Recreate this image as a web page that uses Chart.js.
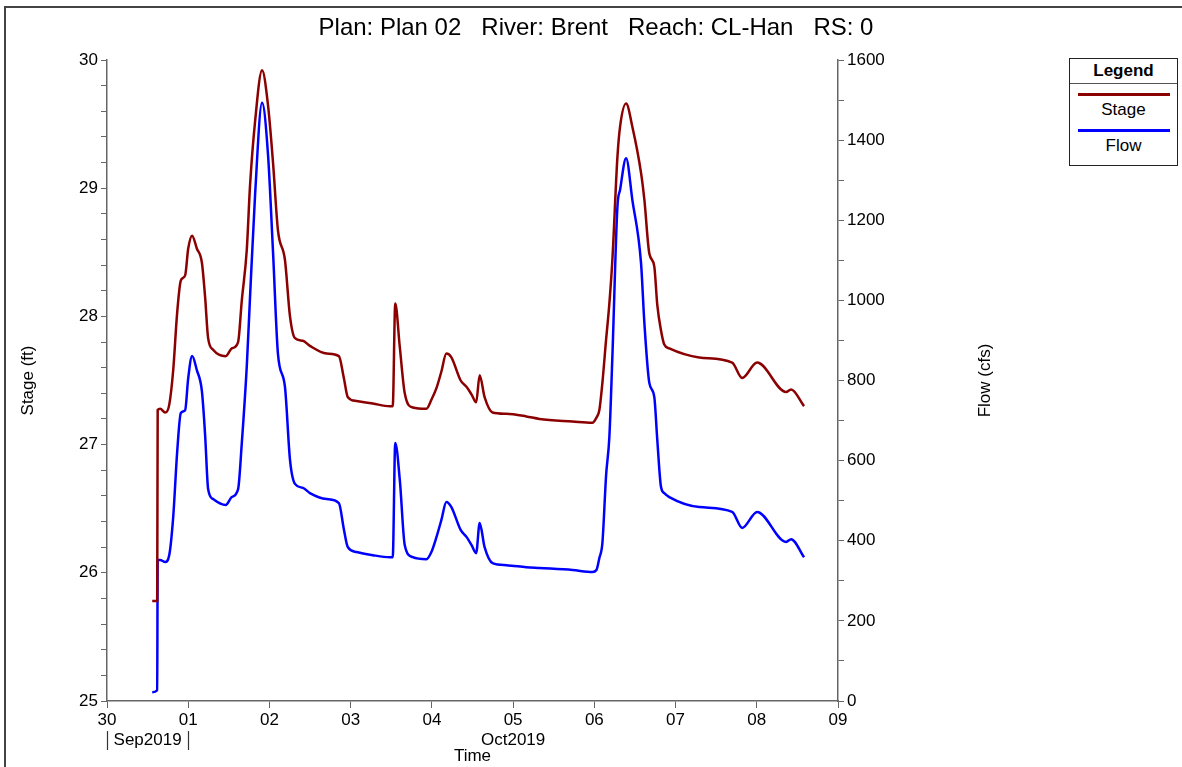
<!DOCTYPE html>
<html lang="en">
<head>
<meta charset="UTF-8">
<title>Plan 02 - Brent CL-Han</title>
<script src="https://cdn.jsdelivr.net/npm/chart.js"></script>
<style>
  body { margin: 0; background: #fff; font-family: "Liberation Sans", Arial, sans-serif; }
  #wrap { position: relative; width: 1182px; height: 767px; overflow: hidden; }
  #legend {
    position: absolute; left: 1069px; top: 58px;
    width: 107px; height: 106px;
    border: 1px solid #222; background: #fff;
    font-size: 17px; color: #000;
  }
  #legend .head {
    position: absolute; left: 0; top: 0; width: 100%; height: 24px;
    line-height: 24px; text-align: center; font-weight: bold;
    border-bottom: 1px solid #555;
  }
  #legend .swatch { position: absolute; left: 8px; width: 92px; height: 3px; }
  #legend .label { position: absolute; left: 0; width: 100%; text-align: center; line-height: 20px; }
</style>
</head>
<body>
<div id="wrap">
  <canvas id="hydro" width="1182" height="767"></canvas>
  <div id="legend">
    <div class="head">Legend</div>
    <div class="swatch" style="top:34px;background:#8b0000"></div>
    <div class="label" style="top:41px">Stage</div>
    <div class="swatch" style="top:70px;background:#0000ff"></div>
    <div class="label" style="top:77px">Flow</div>
  </div>
</div>

<script>
  // days since 30 Sep 2019 00:00
  const timeDays = [0.557, 0.618, 0.624, 0.655, 0.716, 0.766, 0.815, 0.864, 0.909, 0.962,
    1.000, 1.048, 1.106, 1.168, 1.208, 1.245, 1.306, 1.462, 1.536, 1.614,
    1.659, 1.721, 1.761, 1.823, 1.909, 1.982, 2.044, 2.105, 2.191, 2.253,
    2.314, 2.412, 2.498, 2.704, 2.855, 2.916, 2.965, 3.072, 3.273, 3.482,
    3.518, 3.549, 3.605, 3.666, 3.764, 3.933, 3.994, 4.056, 4.117, 4.178,
    4.240, 4.354, 4.428, 4.489, 4.545, 4.588, 4.649, 4.747, 4.916, 5.162,
    5.325, 5.731, 5.976, 6.026, 6.062, 6.099, 6.145, 6.185, 6.222, 6.284,
    6.317, 6.391, 6.468, 6.575, 6.616, 6.677, 6.738, 6.775, 6.821, 6.861,
    6.923, 7.291, 7.697, 7.820, 8.004, 8.361, 8.422, 8.582];

  const stage = [25.78, 25.78, 27.27, 27.28, 27.25, 27.31, 27.58, 28.03, 28.28, 28.32,
    28.53, 28.63, 28.53, 28.42, 28.15, 27.83, 27.74, 27.69, 27.75, 27.80,
    28.12, 28.52, 29.02, 29.52, 29.92, 29.65, 29.20, 28.67, 28.44, 28.00,
    27.83, 27.81, 27.77, 27.71, 27.69, 27.52, 27.37, 27.34, 27.32, 27.30,
    27.30, 28.10, 27.76, 27.40, 27.29, 27.28, 27.35, 27.44, 27.57, 27.71,
    27.68, 27.50, 27.45, 27.39, 27.33, 27.54, 27.37, 27.25, 27.24, 27.22,
    27.20, 27.18, 27.17, 27.21, 27.27, 27.48, 27.82, 28.10, 28.44, 29.24,
    29.48, 29.66, 29.48, 29.12, 28.91, 28.49, 28.39, 28.09, 27.89, 27.78,
    27.75, 27.68, 27.64, 27.52, 27.64, 27.41, 27.43, 27.30];

  const flow = [22, 27, 352, 352, 347, 364, 459, 622, 719, 726,
    806, 861, 826, 774, 664, 529, 504, 489, 509, 529,
    642, 836, 1008, 1263, 1493, 1365, 1121, 866, 784, 602,
    542, 532, 519, 504, 494, 429, 384, 372, 364, 359,
    359, 644, 552, 389, 359, 354, 372, 409, 452, 497,
    484, 427, 409, 389, 369, 444, 384, 344, 339, 334,
    332, 327, 322, 327, 357, 394, 564, 659, 859, 1233,
    1276, 1355, 1251, 1093, 944, 794, 759, 652, 534, 519,
    509, 484, 472, 432, 472, 397, 404, 359];

  const xTickLabels = ['30', '01', '02', '03', '04', '05', '06', '07', '08', '09'];
  const monthNames = ['Sep2019', 'Oct2019'];
  const monthStart = [0, 1];
  const monthEnd = [1, 9];

  const titleText = 'Plan: Plan 02   River: Brent   Reach: CL-Han   RS: 0';
  const FONT = '"Liberation Sans", Arial, sans-serif';
  const AXIS = '#666';

  Chart.defaults.font.family = FONT;
  Chart.defaults.color = '#000';

  const isWhole = v => Math.abs(v - Math.round(v)) < 1e-6;

  // frame, title, axis titles and month labels
  const decorations = {
    id: 'decorations',
    beforeDraw(chart) {
      const ctx = chart.ctx;
      ctx.save();
      ctx.fillStyle = '#fff';
      ctx.fillRect(0, 0, chart.width, chart.height);
      ctx.strokeStyle = '#444';
      ctx.lineWidth = 2;
      ctx.strokeRect(5, 7, 1400, 900);
      ctx.restore();
    },
    afterDraw(chart) {
      const { ctx, chartArea } = chart;
      const x = chart.scales.x;
      const midY = (chartArea.top + chartArea.bottom) / 2;
      ctx.save();
      ctx.fillStyle = '#000';
      ctx.textAlign = 'center';
      ctx.textBaseline = 'middle';

      ctx.font = '24px ' + FONT;
      ctx.fillText(titleText, 596, 28);

      ctx.font = '17px ' + FONT;
      ctx.save();
      ctx.translate(28, midY);
      ctx.rotate(-Math.PI / 2);
      ctx.fillText('Stage (ft)', 0, 0);
      ctx.restore();
      ctx.save();
      ctx.translate(985, midY);
      ctx.rotate(-Math.PI / 2);
      ctx.fillText('Flow (cfs)', 0, 0);
      ctx.restore();

      monthNames.forEach((name, i) => {
        const a = x.getPixelForValue(monthStart[i]);
        const b = x.getPixelForValue(monthEnd[i]);
        ctx.fillText(name, (a + b) / 2, 740);
      });
      // boundaries of the first month
      ctx.strokeStyle = '#333';
      ctx.lineWidth = 1.2;
      [monthStart[0], monthEnd[0]].forEach(v => {
        const px = Math.round(x.getPixelForValue(v)) + 0.5;
        ctx.beginPath();
        ctx.moveTo(px, 731);
        ctx.lineTo(px, 750);
        ctx.stroke();
      });

      ctx.fillText('Time', (chartArea.left + chartArea.right) / 2, 756);
      ctx.restore();
    }
  };

  new Chart(document.getElementById('hydro'), {
    type: 'line',
    data: {
      datasets: [
        {
          label: 'Stage',
          data: timeDays.map((t, i) => ({ x: t, y: stage[i] })),
          yAxisID: 'y',
          borderColor: '#8b0000',
          backgroundColor: '#8b0000'
        },
        {
          label: 'Flow',
          data: timeDays.map((t, i) => ({ x: t, y: flow[i] })),
          yAxisID: 'y1',
          borderColor: '#0000ff',
          backgroundColor: '#0000ff'
        }
      ]
    },
    options: {
      responsive: false,
      animation: false,
      layout: { padding: { top: 60, left: 0, right: 0, bottom: 0 } },
      elements: {
        point: { radius: 0 },
        line: { borderWidth: 2.5, cubicInterpolationMode: 'monotone', fill: false }
      },
      plugins: {
        legend: { display: false },
        title: { display: false },
        tooltip: { enabled: false }
      },
      scales: {
        x: {
          type: 'linear',
          position: 'bottom',
          min: 0,
          max: 9,
          ticks: {
            stepSize: 1,
            autoSkip: false,
            maxRotation: 0,
            padding: 2,
            font: { size: 17 },
            callback: v => xTickLabels[Math.round(v)]
          },
          grid: { drawOnChartArea: false, tickLength: 7, color: AXIS },
          border: { color: AXIS, width: 1.5 },
          afterFit: s => { s.height = 66; }
        },
        y: {
          position: 'left',
          min: 25,
          max: 30,
          ticks: {
            stepSize: 0.2,
            autoSkip: false,
            padding: 3,
            font: { size: 17 },
            callback: v => isWhole(v) ? String(Math.round(v)) : ''
          },
          grid: { drawOnChartArea: false, tickLength: 6, color: AXIS },
          border: { color: AXIS, width: 1.5 },
          afterFit: s => { s.width = 107; }
        },
        y1: {
          position: 'right',
          min: 0,
          max: 1600,
          ticks: {
            stepSize: 100,
            autoSkip: false,
            padding: 3,
            font: { size: 17 },
            callback: v => v % 200 === 0 ? String(v) : ''
          },
          grid: { drawOnChartArea: false, tickLength: 6, color: AXIS },
          border: { color: AXIS, width: 1.5 },
          afterFit: s => { s.width = 344; }
        }
      }
    },
    plugins: [decorations]
  });
</script>
</body>
</html>
